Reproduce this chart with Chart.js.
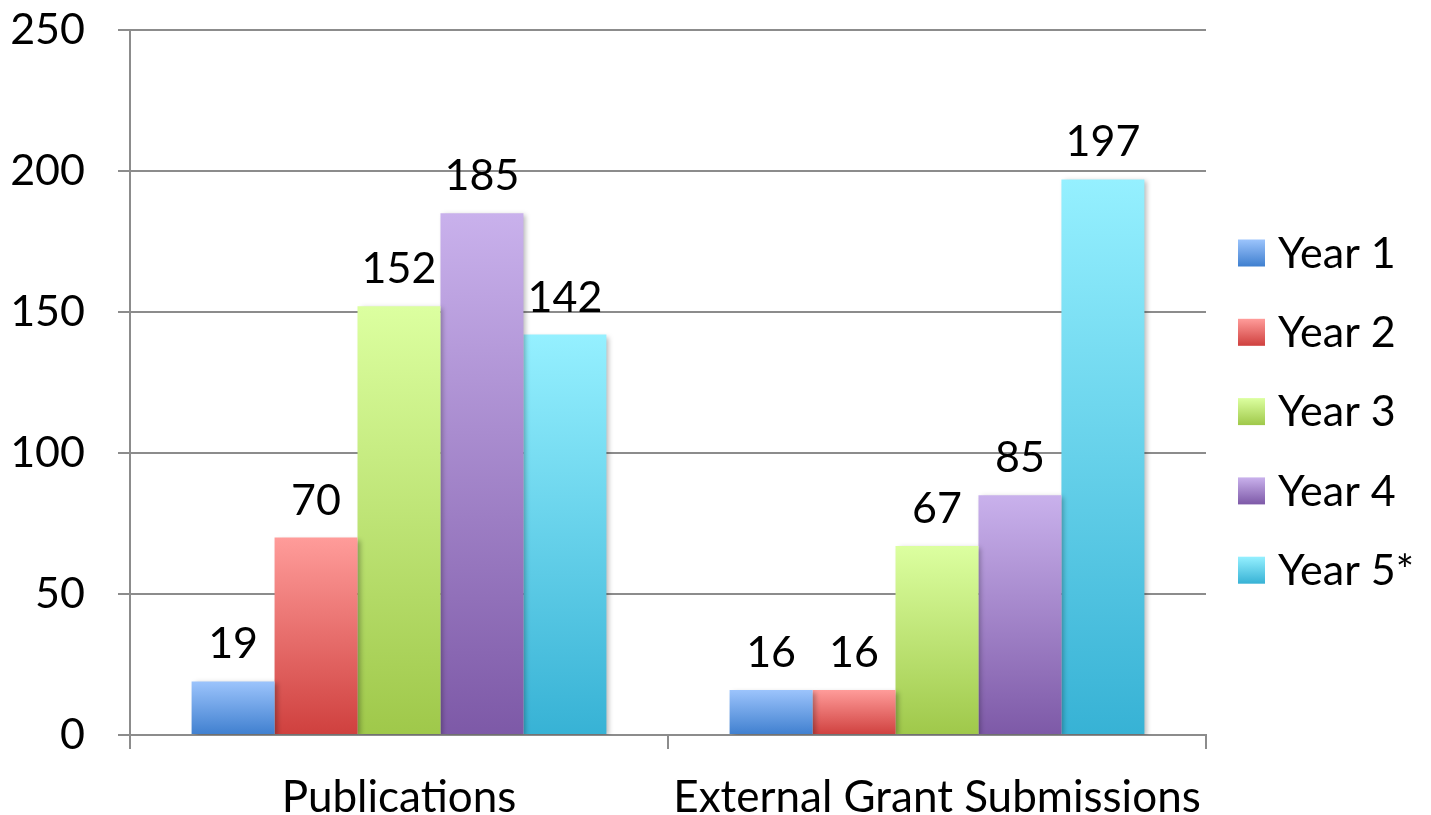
<!DOCTYPE html>
<html>
<head>
<meta charset="utf-8">
<script src="https://cdn.jsdelivr.net/npm/chart.js@4.4.0/dist/chart.umd.min.js"></script>
<style>
  html, body { margin: 0; padding: 0; background: #fff; }
  #wrap { width: 1431px; height: 815px; position: relative; }
</style>
</head>
<body>
<div id="wrap"><canvas id="barChart"></canvas></div>
<script>
const categories = ["Publications", "External Grant Submissions"];
const seriesNames = ["Year 1", "Year 2", "Year 3", "Year 4", "Year 5*"];
const year1 = [19, 16];
const year2 = [70, 16];
const year3 = [152, 67];
const year4 = [185, 85];
const year5 = [142, 197];
const yTicks = [0, 50, 100, 150, 200, 250];

// light top / dark bottom, like the office gradient fills
const gradientStops = [
  ["#9cc4fc", "#3f7fcf"],
  ["#ff9c9a", "#cf403e"],
  ["#dcffa0", "#9fc84a"],
  ["#c9b1ec", "#7d59a7"],
  ["#95f0ff", "#37b2d5"],
];

const FONT = "Lato, 'Open Sans', sans-serif";
const FONT_SIZE = 43;
const gridColor = "#8c8c8c";

function barGradient(ctx, i) {
  const chart = ctx.chart;
  if (!chart.chartArea || ctx.raw === undefined) return gradientStops[i][1];
  const y = chart.scales.y;
  const top = y.getPixelForValue(ctx.raw);
  const base = y.getPixelForValue(0);
  const g = chart.ctx.createLinearGradient(0, top, 0, base);
  g.addColorStop(0, gradientStops[i][0]);
  g.addColorStop(1, gradientStops[i][1]);
  return g;
}

const allSeries = [year1, year2, year3, year4, year5];

const barShadow = {
  id: "barShadow",
  beforeDatasetsDraw(chart) {
    const c = chart.ctx;
    c.save();
    c.shadowColor = "rgba(0,0,0,0.28)";
    c.shadowBlur = 5;
    c.shadowOffsetX = 3;
    c.shadowOffsetY = 2;
  },
  afterDatasetsDraw(chart) {
    chart.ctx.restore();
  },
};

const valueLabels = {
  id: "valueLabels",
  afterDatasetsDraw(chart) {
    const c = chart.ctx;
    c.save();
    c.font = FONT_SIZE + "px " + FONT;
    c.fillStyle = "#000";
    c.textAlign = "center";
    c.textBaseline = "alphabetic";
    chart.data.datasets.forEach((ds, di) => {
      chart.getDatasetMeta(di).data.forEach((bar, i) => {
        c.fillText(String(ds.data[i]), bar.x, bar.y - 23);
      });
    });
    c.restore();
  },
};

const sideLegend = {
  id: "sideLegend",
  afterDraw(chart) {
    const c = chart.ctx;
    const x = chart.chartArea.right + 32;
    c.save();
    c.font = FONT_SIZE + "px " + FONT;
    c.textBaseline = "middle";
    c.textAlign = "left";
    seriesNames.forEach((name, i) => {
      const cy = 253 + i * 79.3;
      const g = c.createLinearGradient(0, cy - 13.5, 0, cy + 13.5);
      g.addColorStop(0, gradientStops[i][0]);
      g.addColorStop(1, gradientStops[i][1]);
      c.fillStyle = g;
      c.fillRect(x, cy - 13.5, 27, 27);
      c.fillStyle = "#000";
      c.fillText(name, x + 40, cy + 1);
    });
    c.restore();
  },
};

new Chart(document.getElementById("barChart"), {
  type: "bar",
  data: {
    labels: categories,
    datasets: seriesNames.map((name, i) => ({
      label: name,
      data: allSeries[i],
      backgroundColor: (ctx) => barGradient(ctx, i),
      borderWidth: 0,
      barPercentage: 1,
      categoryPercentage: 0.771,
    })),
  },
  options: {
    responsive: true,
    maintainAspectRatio: false,
    animation: false,
    layout: { padding: { top: 30, right: 225, bottom: 0, left: 0 } },
    plugins: {
      legend: { display: false },
      tooltip: { enabled: false },
    },
    scales: {
      x: {
        afterFit: (s) => { s.height = 80; s.paddingLeft = 0; s.paddingRight = 0; },
        grid: {
          display: true,
          drawOnChartArea: false,
          offset: true,
          tickLength: 14,
          color: gridColor,
          lineWidth: 2,
        },
        border: { color: gridColor, width: 2 },
        ticks: {
          color: "#000",
          font: { family: FONT, size: 44 },
          padding: 22,
        },
      },
      y: {
        min: 0,
        max: 250,
        afterFit: (s) => { s.width = 130; s.paddingTop = 0; s.paddingBottom = 0; },
        afterBuildTicks: (s) => { s.ticks = yTicks.map((v) => ({ value: v })); },
        grid: { color: gridColor, lineWidth: 2, tickLength: 12 },
        border: { color: gridColor, width: 2 },
        ticks: {
          color: "#000",
          font: { family: FONT, size: FONT_SIZE },
          padding: 33,
        },
      },
    },
  },
  plugins: [barShadow, valueLabels, sideLegend],
});
</script>
</body>
</html>
